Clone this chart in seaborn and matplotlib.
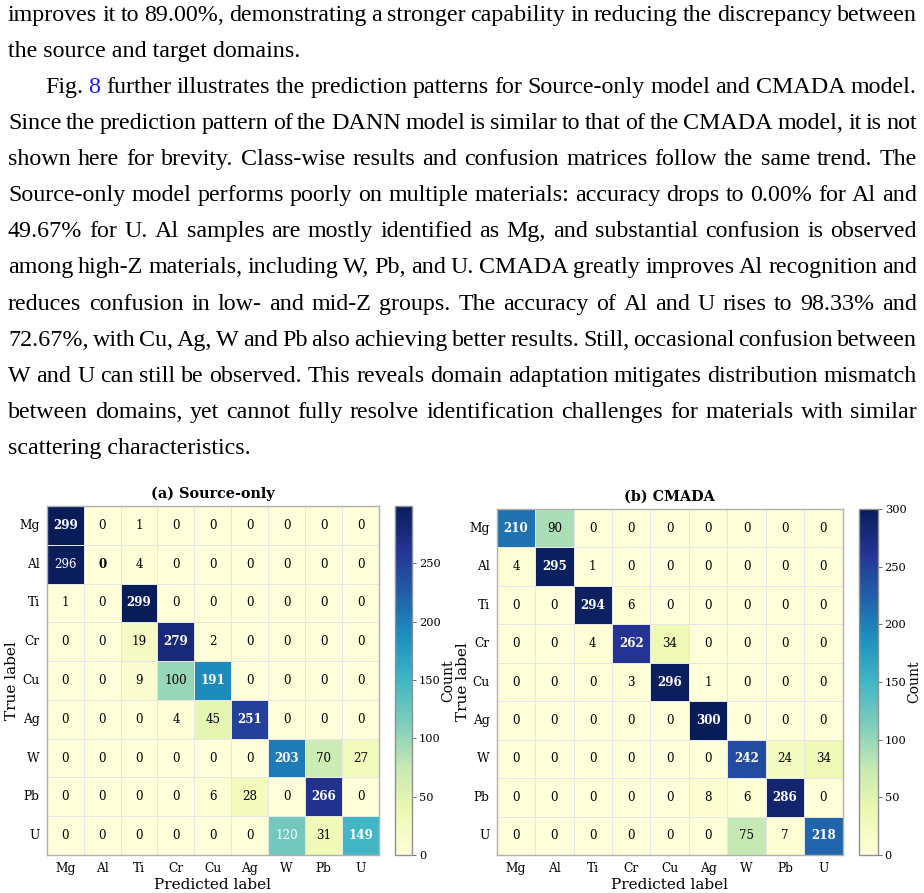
import matplotlib
matplotlib.use("Agg")
import matplotlib.pyplot as plt
import seaborn as sns
import pandas as pd
import numpy as np

###################################################################
# data

materials = ["Mg", "Al", "Ti", "Cr", "Cu", "Ag", "W", "Pb", "U"]

source_only = [
    [299, 0, 1, 0, 0, 0, 0, 0, 0],
    [296, 0, 4, 0, 0, 0, 0, 0, 0],
    [1, 0, 299, 0, 0, 0, 0, 0, 0],
    [0, 0, 19, 279, 2, 0, 0, 0, 0],
    [0, 0, 9, 100, 191, 0, 0, 0, 0],
    [0, 0, 0, 4, 45, 251, 0, 0, 0],
    [0, 0, 0, 0, 0, 0, 203, 70, 27],
    [0, 0, 0, 0, 6, 28, 0, 266, 0],
    [0, 0, 0, 0, 0, 0, 120, 31, 149],
]

cmada = [
    [210, 90, 0, 0, 0, 0, 0, 0, 0],
    [4, 295, 1, 0, 0, 0, 0, 0, 0],
    [0, 0, 294, 6, 0, 0, 0, 0, 0],
    [0, 0, 4, 262, 34, 0, 0, 0, 0],
    [0, 0, 0, 3, 296, 1, 0, 0, 0],
    [0, 0, 0, 0, 0, 300, 0, 0, 0],
    [0, 0, 0, 0, 0, 0, 242, 24, 34],
    [0, 0, 0, 0, 0, 8, 6, 286, 0],
    [0, 0, 0, 0, 0, 0, 75, 7, 218],
]

titles = ["(a) Source-only", "(b) CMADA"]

# paragraph lines; True = justified
para_lines = [
    ("improves it to 89.00%, demonstrating a stronger capability in reducing the discrepancy between", True),
    ("the source and target domains.", False),
    ("Fig. 8 further illustrates the prediction patterns for Source-only model and CMADA model.", True),
    ("Since the prediction pattern of the DANN model is similar to that of the CMADA model, it is not", True),
    ("shown here for brevity. Class-wise results and confusion matrices follow the same trend. The", True),
    ("Source-only model performs poorly on multiple materials: accuracy drops to 0.00% for Al and", True),
    ("49.67% for U. Al samples are mostly identified as Mg, and substantial confusion is observed", True),
    ("among high-Z materials, including W, Pb, and U. CMADA greatly improves Al recognition and", True),
    ("reduces confusion in low- and mid-Z groups. The accuracy of Al and U rises to 98.33% and", True),
    ("72.67%, with Cu, Ag, W and Pb also achieving better results. Still, occasional confusion between", True),
    ("W and U can still be observed. This reveals domain adaptation mitigates distribution mismatch", True),
    ("between domains, yet cannot fully resolve identification challenges for materials with similar", True),
    ("scattering characteristics.", False),
]

###################################################################

W, H = 924, 893
fig = plt.figure(figsize=(W / 100, H / 100), dpi=100)
fig.patch.set_facecolor("white")
plt.rcParams["font.family"] = "DejaVu Serif"


def px_axes(x0, y0, x1, y1):
    # pixel box (top-left origin) -> axes
    return fig.add_axes([x0 / W, 1 - y1 / H, (x1 - x0) / W, (y1 - y0) / H])


# --- paragraph text, justified word by word
renderer = fig.canvas.get_renderer()
serif_txt = ["Liberation Serif", "DejaVu Serif"]
txt_size = 17.3
left_px, right_px = 8, 917
base0, step = 21, 36.07

for i, (line, justify) in enumerate(para_lines):
    ybase = 1 - (base0 + i * step) / H
    x0 = 45 if line.startswith("Fig.") else left_px
    if not justify:
        fig.text(x0 / W, ybase, line, va="baseline", ha="left",
                 family=serif_txt, size=txt_size, color="black")
        continue
    words = line.split(" ")
    objs = []
    for w in words:
        col = "#1a1aff" if (w == "8" and line.startswith("Fig.")) else "black"
        t = fig.text(0, ybase, w, va="baseline", ha="left",
                     family=serif_txt, size=txt_size, color=col)
        objs.append(t)
    widths = [t.get_window_extent(renderer).width for t in objs]
    gap = (right_px - x0 - sum(widths)) / (len(words) - 1)
    x = x0
    for t, wd in zip(objs, widths):
        t.set_x(x / W)
        x += wd + gap

# --- confusion matrices
boxes = [
    ((46.7, 506, 379, 855), (395, 506, 412, 855)),
    ((496.7, 509, 842.7, 855), (859, 509, 877.7, 855)),
]
ylabel_px = [19, 470]   # right edge of rotated "True label"
count_px = [441, 907]   # anchor of rotated "Count"

for k, (mat, title) in enumerate(zip([source_only, cmada], titles)):
    hb, cb = boxes[k]
    ax = px_axes(*hb)
    cax = px_axes(*cb)
    df = pd.DataFrame(mat, index=materials, columns=materials)
    vmax = df.values.max()
    sns.heatmap(df, ax=ax, cbar_ax=cax, cmap="YlGnBu", vmin=0, vmax=vmax,
                annot=True, fmt="d", linewidths=0.7, linecolor="#e6e6e6",
                annot_kws={"size": 8.6, "family": "DejaVu Serif"},
                cbar_kws={"label": "Count"})
    for t in ax.texts:
        v = int(t.get_text())
        xx, yy = t.get_position()
        c, r = int(xx), int(yy)
        t.set_color("white" if v > 0.4 * vmax else "black")
        if r == c:
            t.set_fontweight("bold")
    ax.set_title(title, fontsize=10.4, fontweight="bold", family="DejaVu Serif", pad=6)
    ax.set_xlabel("Predicted label", fontsize=11, family="DejaVu Serif", labelpad=2)
    ax.set_ylabel("True label", fontsize=11, family="DejaVu Serif")
    axw = hb[2] - hb[0]
    ax.yaxis.set_label_coords((ylabel_px[k] - hb[0]) / axw, 0.5)
    ax.tick_params(axis="both", length=0, labelsize=8.8, pad=5)
    ax.set_yticklabels(materials, rotation=0, family="DejaVu Serif")
    ax.set_xticklabels(materials, rotation=0, family="DejaVu Serif")
    for s in ax.spines.values():
        s.set_visible(True)
        s.set_color("#b0b0b0")
        s.set_linewidth(1.0)
    cbar = ax.collections[0].colorbar
    cax.tick_params(labelsize=8.2, length=3, width=0.6, color="#555555", pad=2)
    for lab in cax.get_yticklabels():
        lab.set_family("DejaVu Serif")
    cax.yaxis.label.set_size(10.0)
    cax.yaxis.label.set_family("DejaVu Serif")
    cw = cb[2] - cb[0]
    cax.yaxis.set_label_coords((count_px[k] - cb[0]) / cw, 0.5)
    cbar.outline.set_edgecolor("#909090")
    cbar.outline.set_linewidth(1.0)

fig.savefig("out.png", dpi=100, facecolor="white")
